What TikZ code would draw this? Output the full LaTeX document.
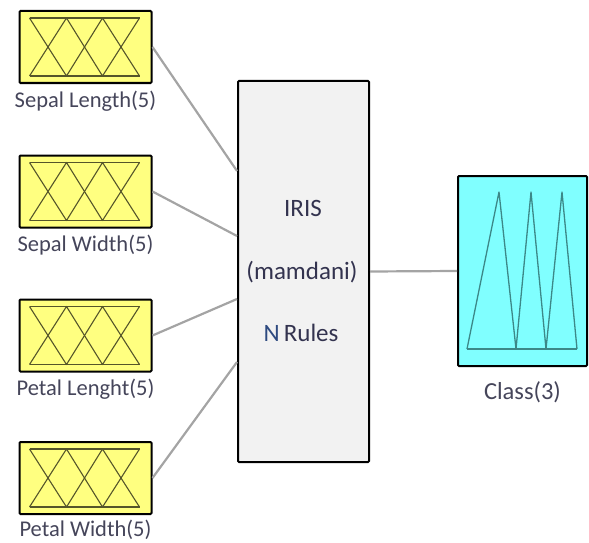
\documentclass[tikz,border=0pt]{standalone}
\usepackage{fontspec}
\setmainfont{Carlito}
\definecolor{inyellow}{HTML}{FFFF80}
\definecolor{mfolive}{HTML}{55552A}
\definecolor{clscyan}{HTML}{80FFFF}
\definecolor{mfteal}{HTML}{3C8888}
\definecolor{fisgrey}{HTML}{F2F2F2}
\definecolor{conngrey}{HTML}{A4A4A4}
\definecolor{lblcol}{HTML}{45455A}
\definecolor{ctxcol}{HTML}{33334F}
\definecolor{ncol}{HTML}{2E4A80}
\begin{document}
\begin{tikzpicture}[x=1pt,y=-1pt,
  inbox/.style={draw=black, line width=2pt, fill=inyellow, minimum width=132pt, minimum height=72pt, inner sep=0pt, rounded corners=1pt},
  fisbox/.style={draw=black, line width=2pt, fill=fisgrey, minimum width=131pt, minimum height=381pt, inner sep=0pt, rounded corners=1pt},
  outbox/.style={draw=black, line width=2pt, fill=clscyan, minimum width=129pt, minimum height=190pt, inner sep=0pt, rounded corners=1pt},
  lbl/.style={text=lblcol, font=\fontsize{22.5}{26}\selectfont, inner sep=0pt},
  clbl/.style={text=lblcol, font=\fontsize{24.5}{28}\selectfont, inner sep=0pt},
  ctext/.style={text=ctxcol, font=\fontsize{25}{30}\selectfont, inner sep=0pt},
  conn/.style={draw=conngrey, line width=2.2pt},
  mfy/.style={draw=mfolive, line width=1.1pt, line join=round},
  mfc/.style={draw=mfteal, line width=1.3pt, line join=round}]
\useasboundingbox (0,0) rectangle (589,543);

% input boxes
\node[inbox] (in1) at (85.5,47) {};
\node[inbox] (in2) at (85.5,191.5) {};
\node[inbox] (in3) at (85.5,335.5) {};
\node[inbox] (in4) at (85.5,478) {};
\node[lbl] (l1) at ([yshift=-17pt]in1.south) {Sepal Length(5)};
\node[lbl] (l2) at ([yshift=-17pt]in2.south) {Sepal Width(5)};
\node[lbl] (l3) at ([yshift=-17pt]in3.south) {Petal Lenght(5)};
\node[lbl] (l4) at ([yshift=-15pt]in4.south) {Petal Width(5)};

% membership functions of inputs
\foreach \n in {in1,in2,in3,in4}{
  \begin{scope}[shift={(\n.north west)}]
    \draw[mfy] (11,8) -- (121,8);
    \draw[mfy] (11,66) -- (121,66);
    \draw[mfy] (11,8) -- (48,66) -- (84,8) -- (121,66);
    \draw[mfy] (11,66) -- (48,8) -- (84,66) -- (121,8);
  \end{scope}
}

% FIS box
\node[fisbox] (fis) at (303.5,271.5) {};
\node[ctext] (t1) at (303,208) {IRIS};
\node[ctext] (t2) at (302,272) {(mamdani)};
\node[ctext] (t3) at (301,333) {\textcolor{ncol}{N}\,Rules};

% output box
\node[outbox] (cls) at (522.5,271) {};
\node[clbl] (l5) at ([yshift=-25pt]cls.south) {Class(3)};
\begin{scope}[shift={(cls.north west)}]
  \draw[mfc] (10,174) -- (120,174);
  \draw[mfc] (10,174) -- (42,17) -- (59,174) -- (74,17) -- (89,174) -- (105,17) -- (120,174);
\end{scope}

% connectors
\coordinate (p1) at ([yshift=-91pt]fis.north west);
\coordinate (p2) at ([yshift=-156pt]fis.north west);
\coordinate (p3) at ([yshift=-219pt]fis.north west);
\coordinate (p4) at ([yshift=-282pt]fis.north west);
\draw[conn] (in1.east) -- (p1);
\draw[conn] (in2.east) -- (p2);
\draw[conn] (in3.east) -- (p3);
\draw[conn] (in4.east) -- (p4);
\draw[conn] (fis.east) -- (cls.west);
\end{tikzpicture}
\end{document}
